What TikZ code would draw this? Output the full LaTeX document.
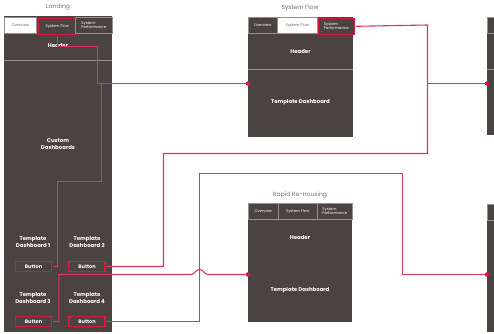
\documentclass[tikz,border=0pt]{standalone}
\usepackage{fontspec}
\setmainfont{Poppins}
\definecolor{panelbg}{RGB}{75,67,65}
\definecolor{divider}{RGB}{150,143,140}
\definecolor{brand}{RGB}{210,26,62}
\definecolor{wire}{RGB}{226,52,90}
\definecolor{caption}{RGB}{115,115,115}
\definecolor{tabtext}{RGB}{110,105,103}

% the picture is laid out in units of 1pt and drawn at twice that size
\tikzset{
  panel/.style={fill=panelbg, draw=none, anchor=north west, inner sep=0},
  tabcell/.style={fill=panelbg, draw=divider, line width=0.6, anchor=north west,
    inner sep=0, minimum height=16, text=white, align=center,
    font=\fontsize{3.8}{4.0}\selectfont},
  tabwhite/.style={tabcell, fill=white, text=tabtext},
  tabpick/.style={tabcell, draw=brand, line width=2.6},
  label/.style={text=white, align=center, font=\bfseries\fontsize{5.4}{6.6}\selectfont},
  caption/.style={text=caption, font=\fontsize{6}{7}\selectfont},
  btn/.style={draw=brand, line width=2.6, fill=panelbg, minimum width=36,
    minimum height=10, inner sep=0, text=white, font=\bfseries\fontsize{5}{5}\selectfont},
  link/.style={draw=wire, line width=2.2},
  rulebar/.style={draw=divider, line width=1.6}
}

\begin{document}
\begin{tikzpicture}[x=1pt, y=-1pt, scale=2, every node/.append style={transform shape}]
\useasboundingbox (0,0) rectangle (494,334);
\fill[white] (0,0) rectangle (494,334);

% ---------- Landing ----------
\node[caption] (landcap) at (58,7) {Landing};
\node[panel, minimum width=108, minimum height=316] (land) at (4,16) {};
\node[tabwhite, minimum width=32] (lov) at (4,17) {Overview};
\node[tabpick, minimum width=38] (lsf) at (37,17) {System Flow};
\node[tabcell, minimum width=37, align=left] (lsp) at (75,17) {System\\Performance};
\node[label] (lhead) at (58,46) {Header};
\draw[rulebar] (4,60.5) -- (112,60.5);
\node[label] (lcustom) at (58,144) {Custom\\Dashboards};
\node[label] (td1) at (33,242) {Template\\Dashboard 1};
\node[label] (td2) at (87,242) {Template\\Dashboard 2};
\node[label] (td3) at (33,298) {Template\\Dashboard 3};
\node[label] (td4) at (87,298) {Template\\Dashboard 4};
\node[btn] (b1) at (33.5,266.5) {Button};
\node[btn] (b2) at (87,266.5) {Button};
\node[btn] (b3) at (33.5,321.5) {Button};
\node[btn] (b4) at (87,321.5) {Button};

% ---------- System Flow ----------
\node[caption] (sfcap) at (300,8) {System Flow};
\node[panel, minimum width=105, minimum height=120] (sf) at (248,17) {};
\node[tabcell, minimum width=29] (sov) at (248,17) {Overview};
\node[tabwhite, minimum width=40] (ssf) at (277,17) {System Flow};
\node[tabpick, minimum width=36, align=left] (ssp) at (317,17) {System\\Performance};
\node[label] (shead) at (300.5,52) {Header};
\draw[rulebar] (248,69.5) -- (353,69.5);
\node[label] (sdash) at (300.5,102) {Template Dashboard};

% ---------- Rapid Re-Housing ----------
\node[caption] (rrcap) at (300,195) {Rapid Re-Housing};
\node[panel, minimum width=104, minimum height=119] (rr) at (248,203) {};
\node[tabcell, minimum width=30] (rov) at (248,203) {Overview};
\node[tabcell, minimum width=39] (rsf) at (278,203) {System Flow};
\node[tabcell, minimum width=35, align=left] (rsp) at (317,203) {System\\Performance};
\node[label] (rhead) at (300,238) {Header};
\node[label] (rdash) at (300,290) {Template Dashboard};

% ---------- panels at the right edge ----------
\node[panel, minimum width=40, minimum height=118] (nx1) at (487,17) {};
\node[tabcell, minimum width=29] (nx1ov) at (487,17) {};
\draw[rulebar] (487,69.5) -- (527,69.5);
\node[panel, minimum width=40, minimum height=128] (nx2) at (487,204) {};
\node[tabcell, minimum width=29] (nx2ov) at (487,204) {};

% ---------- ports and junction ----------
\coordinate (sfin) at (248,83.5);
\coordinate (rrin) at (248,274.5);
\coordinate (nx1in) at (487,83.5);
\coordinate (nx2in) at (487,274.5);
\coordinate (spine) at (427.5,25);

% ---------- connectors ----------
\draw[link] (lsf.south) -- ++(0,10.5) -| (97.5,83.5) -- (sfin);
\draw[link] (b1.east) -- ++(5,0) |- (101.5,181.5) |- (sfin);
\draw[link] (b2.east) -| (163.5,153.5) -| (spine) -- (ssp.east);
\draw[link] (nx1in -| spine) -- (nx1in);
\draw[link] (b4.east) -| (199.5,173.5) -| (402.5,274.5) -- (nx2in);
\draw[link] (b3.east) -- ++(6,0) |- (191,274.5)
  .. controls (195,274.5) and (195,269.5) .. (199.5,269.5)
  .. controls (204,269.5) and (204,274.5) .. (208,274.5) -- (rrin);

% ports on top of the wires
\foreach \p in {sfin,rrin,nx1in,nx2in}
  \fill[brand] (\p) circle (2.3);
\end{tikzpicture}
\end{document}
